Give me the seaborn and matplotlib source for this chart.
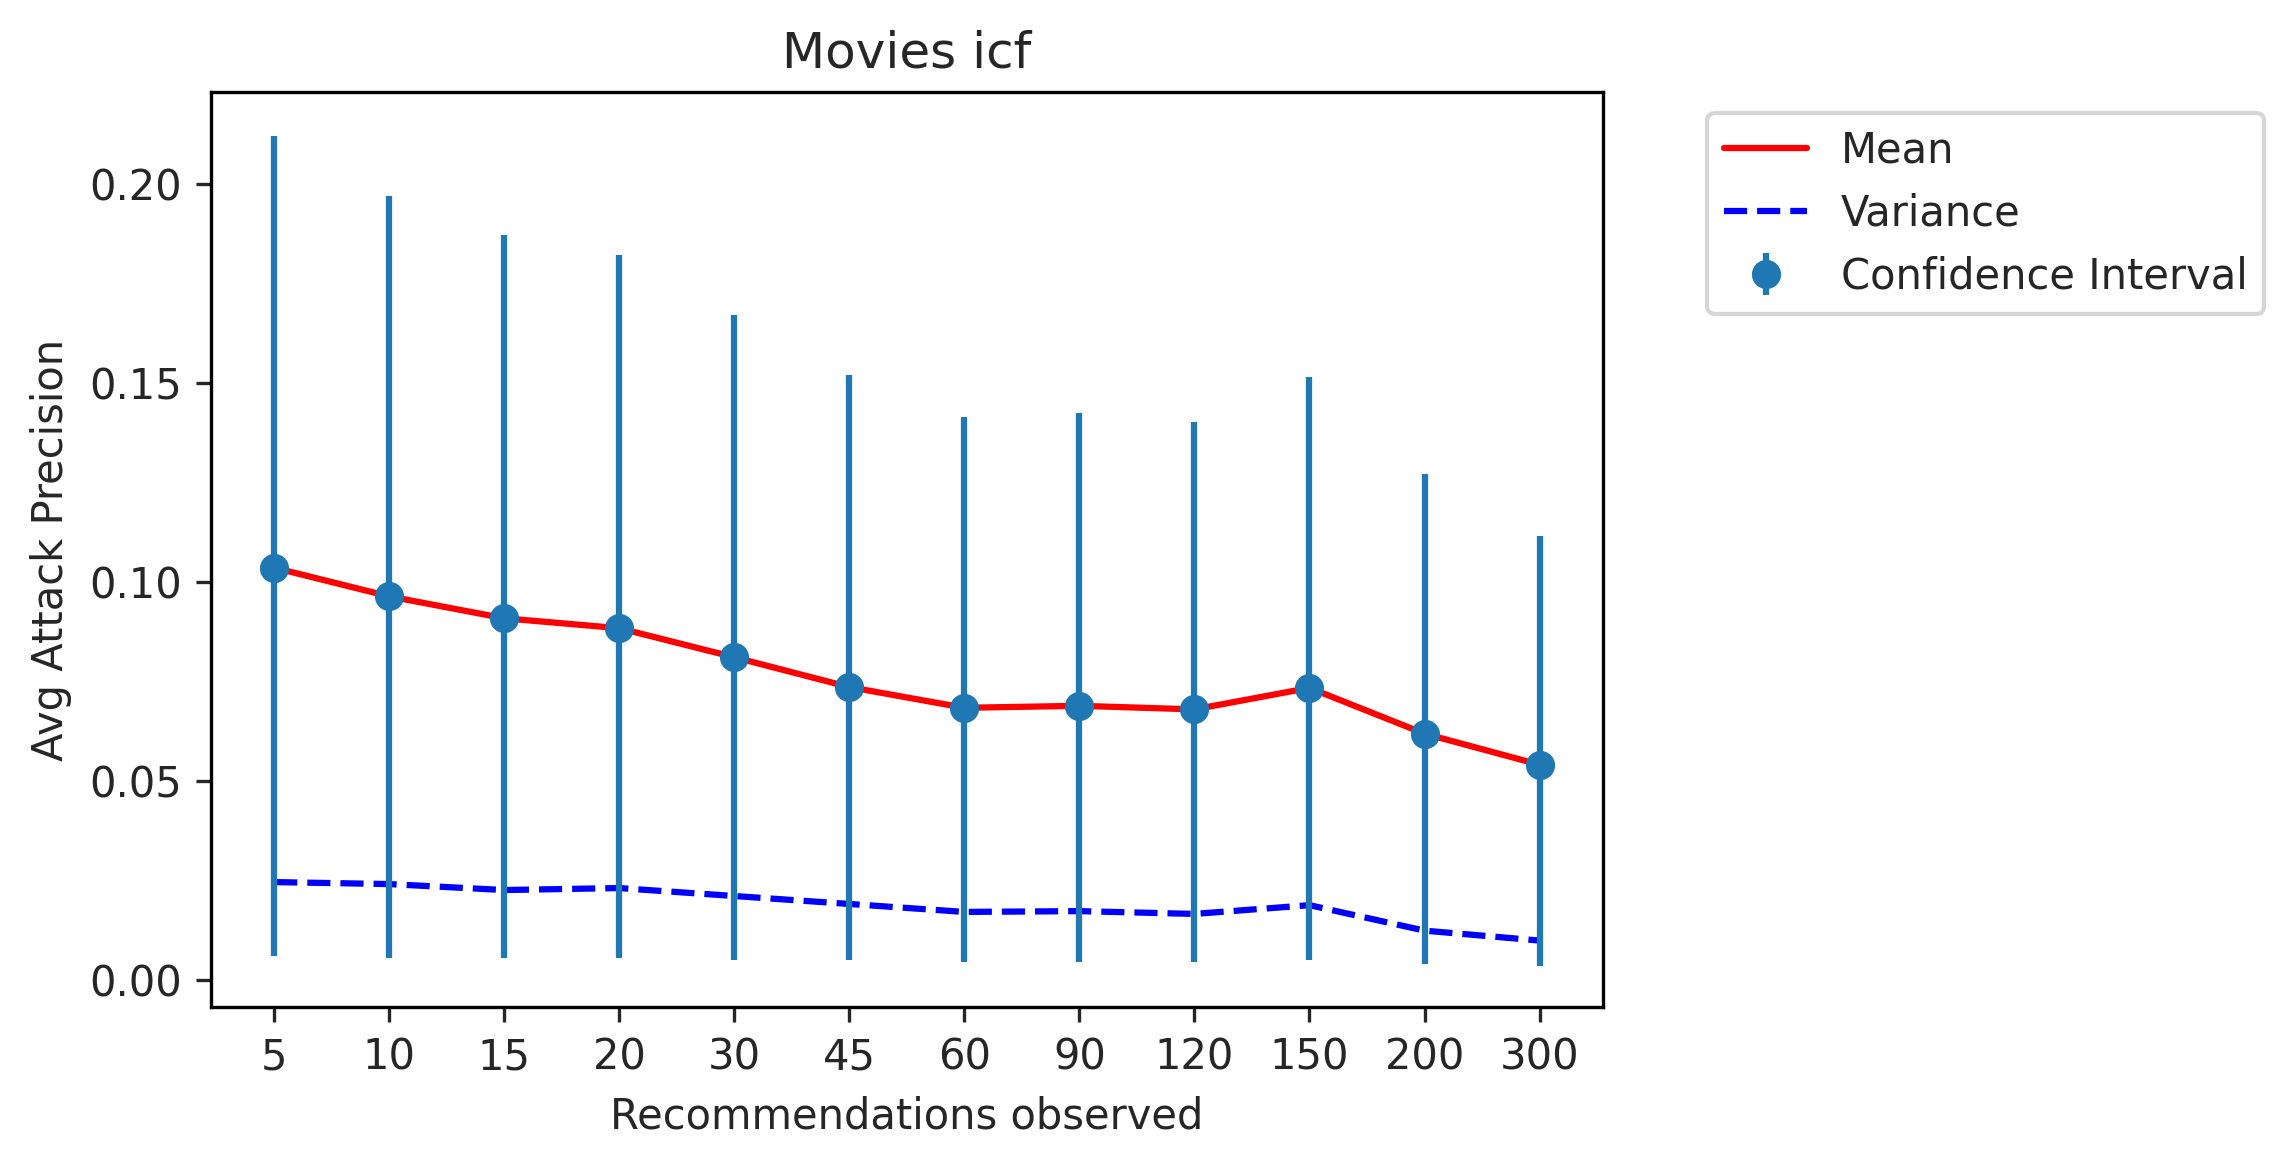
import numpy as np
import matplotlib
matplotlib.use("Agg")
import matplotlib.pyplot as plt
import seaborn as sns

recs = ["5", "10", "15", "20", "30", "45", "60", "90", "120", "150", "200", "300"]
mean = [0.1035, 0.0963, 0.0908, 0.0883, 0.0810, 0.0735, 0.0683, 0.0688, 0.0679, 0.0733, 0.0618, 0.0540]
ci_upper = [0.212, 0.197, 0.187, 0.182, 0.167, 0.152, 0.1415, 0.1425, 0.140, 0.1515, 0.127, 0.1115]
ci_lower = [0.006, 0.0055, 0.0055, 0.0055, 0.005, 0.005, 0.0045, 0.0045, 0.0045, 0.005, 0.004, 0.0035]
variance = [0.0245, 0.0240, 0.0225, 0.0230, 0.0210, 0.0190, 0.0170, 0.0172, 0.0165, 0.0187, 0.0123, 0.0098]

sns.set_style("white")
plt.rcParams["font.family"] = ["DejaVu Sans"]
plt.rcParams["xtick.bottom"] = True
plt.rcParams["ytick.left"] = True

fig = plt.figure(figsize=(7.6, 3.847), dpi=300)
ax = fig.add_axes([0.0925, 0.127, 0.6105, 0.793])

x = np.arange(len(recs))
m = np.array(mean)
yerr = [m - np.array(ci_lower), np.array(ci_upper) - m]

sns.lineplot(x=x, y=mean, ax=ax, color="red", label="Mean", linewidth=1.5)
sns.lineplot(x=x, y=variance, ax=ax, color="blue", label="Variance", linewidth=1.5, linestyle="--")
ax.errorbar(x, mean, yerr=yerr, fmt="o", color="#1f77b4", elinewidth=1.5,
            markersize=6, label="Confidence Interval")

ax.set_xticks(x)
ax.set_xticklabels(recs)
ax.set_xlim(-0.55, 11.55)
ax.set_ylim(-0.007, 0.223)
ax.set_yticks([0.0, 0.05, 0.10, 0.15, 0.20])
ax.set_yticklabels(["0.00", "0.05", "0.10", "0.15", "0.20"])
for s in ax.spines.values():
    s.set_color("black")
    s.set_linewidth(0.8)
ax.tick_params(direction="out", length=3.5, width=0.8, labelsize=10)
ax.set_title("Movies icf", fontsize=12)
ax.set_xlabel("Recommendations observed", fontsize=10)
ax.set_ylabel("Avg Attack Precision", fontsize=10)
ax.legend(loc="upper left", bbox_to_anchor=(1.06, 1.0), fontsize=10, frameon=True)

fig.savefig("out.png", dpi=300)
